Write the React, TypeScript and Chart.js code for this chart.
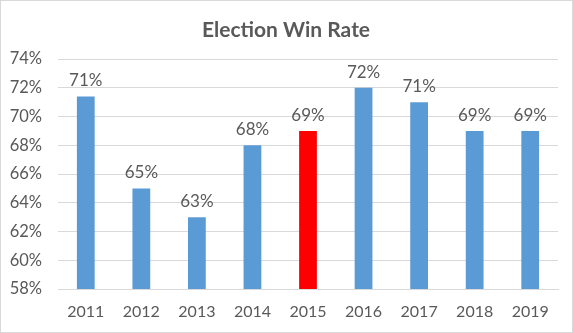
import React, { useEffect, useRef } from "react";
import { Chart, registerables } from "chart.js";

Chart.register(...registerables);

const categories = ["2011", "2012", "2013", "2014", "2015", "2016", "2017", "2018", "2019"];
const winRates = [71.4, 65, 63, 68, 69, 72, 71, 69, 69];
const barColors = ["#5B9BD5", "#5B9BD5", "#5B9BD5", "#5B9BD5", "#FF0000", "#5B9BD5", "#5B9BD5", "#5B9BD5", "#5B9BD5"];
const titleText = "Election Win Rate";
const yMin = 58;
const yMax = 74;
const yStep = 2;

const FONT = "Lato, 'Open Sans', sans-serif";
const TEXT = "#595959";

export default function App() {
  const ref = useRef<HTMLCanvasElement | null>(null);

  useEffect(() => {
    if (!ref.current) return;
    const framePlugin = {
      id: "frame",
      beforeDraw(chart: any) {
        const ctx = chart.ctx;
        ctx.save();
        ctx.fillStyle = "#ffffff";
        ctx.fillRect(0, 0, chart.width, chart.height);
        ctx.strokeStyle = "#D9D9D9";
        ctx.lineWidth = 1;
        ctx.strokeRect(0.5, 0.5, chart.width - 1, chart.height - 1);
        ctx.restore();
      },
      afterDraw(chart: any) {
        const ctx = chart.ctx;
        ctx.save();
        ctx.fillStyle = TEXT;
        ctx.font = `bold 21px ${FONT}`;
        ctx.textAlign = "center";
        ctx.textBaseline = "alphabetic";
        ctx.fillText(titleText, 286, 37);
        ctx.restore();
      },
      afterDatasetsDraw(chart: any) {
        const ctx = chart.ctx;
        const meta = chart.getDatasetMeta(0);
        ctx.save();
        ctx.fillStyle = TEXT;
        ctx.font = `17px ${FONT}`;
        ctx.textAlign = "center";
        ctx.textBaseline = "alphabetic";
        meta.data.forEach((el: any, i: number) => {
          ctx.fillText(Math.round(winRates[i]) + "%", el.x, el.y - 10);
        });
        ctx.restore();
      },
    };

    const chart = new Chart(ref.current, {
      type: "bar",
      data: {
        labels: categories,
        datasets: [
          {
            data: winRates,
            backgroundColor: barColors,
            borderWidth: 0,
            categoryPercentage: 1,
            barPercentage: 0.32,
          },
        ],
      },
      options: {
        responsive: false,
        animation: false,
        layout: { padding: { top: 59, right: 15, left: 0, bottom: 0 } },
        plugins: {
          legend: { display: false },
          title: { display: false },
          tooltip: { enabled: false },
        },
        scales: {
          x: {
            afterFit(scale: any) {
              scale.height = 44;
            },
            grid: { display: false, drawTicks: false },
            border: { display: true, color: "#D9D9D9" },
            ticks: { color: TEXT, font: { family: FONT, size: 16 }, padding: 13 },
          },
          y: {
            min: yMin,
            max: yMax,
            afterFit(scale: any) {
              scale.width = 58;
            },
            grid: { color: "#D9D9D9", drawTicks: false },
            border: { display: false },
            ticks: {
              stepSize: yStep,
              color: TEXT,
              font: { family: FONT, size: 16.5 },
              padding: 16,
              callback: (v: any) => v + "%",
            },
          },
        },
      },
      plugins: [framePlugin],
    });
    return () => chart.destroy();
  }, []);

  return (
    <div style={{ position: "fixed", top: 0, left: 0, width: 573, height: 333 }}>
      <canvas ref={ref} width={573} height={333} />
    </div>
  );
}
